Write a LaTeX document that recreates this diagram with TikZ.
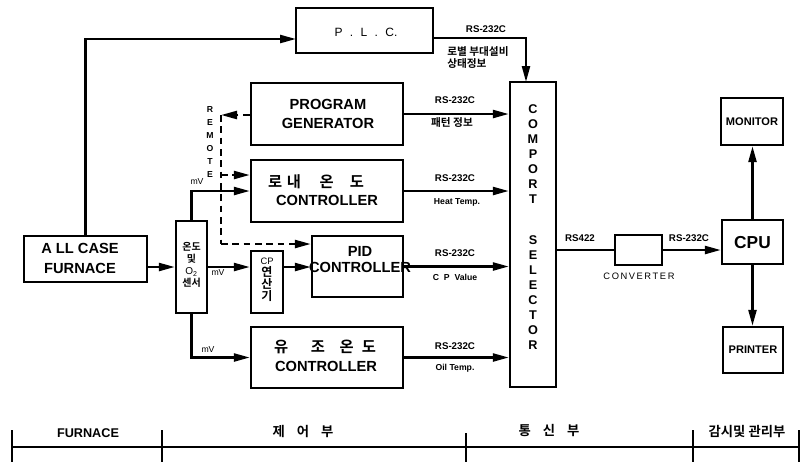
\documentclass[tikz,border=0pt]{standalone}
\usepackage{fontspec}
\setmainfont{Liberation Sans}
\newfontfamily\kr{Noto Sans CJK KR}[BoldFont={Noto Sans CJK KR Bold}]
\usetikzlibrary{arrows.meta,fit}
\newcommand{\fsz}[2]{\fontsize{#1}{#2}\selectfont}
\begin{document}
\begin{tikzpicture}[x=0.75pt,y=-0.75pt,
 box/.style={draw, line width=1.8pt, inner sep=0pt},
 ln/.style={line width=1.8pt},
 tip/.style={-{Triangle[length=12pt,width=6pt]}},
 arr/.style={ln, tip},
 dsh/.style={line width=1.8pt, dash pattern=on 5pt off 3.5pt},
 txt/.style={inner sep=0pt, align=center},
 lab/.style={inner sep=0pt, font=\fsz{7.3}{8}\bfseries},
 small/.style={inner sep=0pt, font=\fsz{6.5}{8}\bfseries},
 big/.style={txt, font=\fsz{11}{14.25}\bfseries},
 krbig/.style={inner sep=0pt, font=\kr\bfseries\fsz{11.5}{12}},
 krlab/.style={inner sep=0pt, font=\kr\bfseries\fsz{8}{8.3}},
]
\useasboundingbox (0,0) rectangle (801,462);

% ---------- boxes ----------
\node[box, fit={(296,8)(433,53)}] (plc) {};
\node[box, fit={(251,83)(403,145)}] (pg) {};
\node[box, fit={(251,160)(403,222)}] (naeon) {};
\node[box, fit={(312,236)(403,297)}] (pid) {};
\node[box, fit={(251,327)(403,388)}] (yujo) {};
\node[box, fit={(24,236)(147,282)}] (furnace) {};
\node[box, fit={(176,221)(207,313)}] (sensor) {};
\node[box, fit={(251,251)(283,313)}] (cpcalc) {};
\node[box, fit={(510,82)(556,387)}] (comport) {};
\node[box, fit={(615,235)(662,265)}] (conv) {};
\node[box, fit={(722,220)(783,264)}] (cpu) {};
\node[box, fit={(721,98)(783,145)}] (mon) {};
\node[box, fit={(723,327)(783,373)}] (prn) {};

% ---------- texts inside boxes ----------
\node[txt, font=\fsz{9}{10}] (plct) at (366,32) {P\,\, .\,\, L\,\, .\,\, C.};
\node[big] (pgt) at (328,113.5) {PROGRAM\\GENERATOR};
\node[krbig] (naeonk) at (316,182) {로\hspace{3.5pt}내\hspace{14pt}온\hspace{12pt}도};
\node[txt, font=\fsz{11}{12}\bfseries] (naeonc) at (327,200) {CONTROLLER};
\node[txt, font=\fsz{11}{12}\bfseries] (pidt) at (360,260) {PID\\CONTROLLER};
\node[krbig] (yujok) at (325,347) {유\hspace{17pt}조\hspace{11pt}온\hspace{6pt}도};
\node[txt, font=\fsz{11}{12}\bfseries] (yujoc) at (326,366) {CONTROLLER};
\node[txt, font=\fsz{11}{15}\bfseries] (furnacet) at (80,258) {A LL CASE\\FURNACE};
\node[txt, font=\fsz{7.5}{9}] (sensort) at (191.5,265)
  {{\kr\bfseries 온도}\\{\kr\bfseries 및}\\O\textsubscript{2}\\{\kr\bfseries 센서}};
\node[txt, font=\fsz{9}{9}] (cpt) at (267,280)
  {{\fsz{7}{9}CP}\\{\kr\bfseries 연}\\{\kr\bfseries 산}\\{\kr\bfseries 기}};
\node[txt, font=\fsz{9.5}{11.3}\bfseries] (cptxt) at (533,227)
  {C\\O\\M\\P\\O\\R\\T\\[19pt]S\\E\\L\\E\\C\\T\\O\\R};
\node[txt, font=\fsz{13}{14}\bfseries] (cput) at (752.5,243) {CPU};
\node[txt, font=\fsz{8.3}{9}\bfseries] (mont) at (752,122) {MONITOR};
\node[txt, font=\fsz{8.3}{9}\bfseries] (prnt) at (753,350) {PRINTER};
\node[inner sep=0pt, font=\fsz{7}{8}] (convl) at (639,276) {C\,O\,N\,V\,E\,R\,T\,E\,R};

% ---------- PLC connections ----------
\coordinate (plcin) at (296,39);
\coordinate (plcout) at (433,38);
\coordinate (cpin) at (526,82);
\draw[arr] (furnace.north) |- (plcin);
\draw[arr] (plcout) -| (cpin);
\node[lab] (l0) at (486,29) {RS-232C};
\node[krlab, align=left, anchor=west] (l0k) at (447,57.5) {로별 부대설비\\상태정보};

% ---------- sensor / controllers ----------
\draw[arr] (furnace.east |- sensor.west) -- (sensor.west);
\draw[arr] (sensor.east) -- (sensor.east -| cpcalc.west);
\draw[arr] (cpcalc.east |- sensor.east) -- (pid.west |- sensor.east);
\draw[arr] (sensor.north) |- (naeon.west);
\draw[arr] (sensor.south) |- (yujo.west);
\node[inner sep=0pt, font=\fsz{6.5}{7}] (mv1) at (197,182) {mV};
\node[inner sep=0pt, font=\fsz{6.5}{7}] (mv2) at (218,273) {mV};
\node[inner sep=0pt, font=\fsz{6.5}{7}] (mv3) at (208,350) {mV};

% ---------- remote (dashed) ----------
\coordinate (r1) at (221,115);
\coordinate (r2) at (221,175);
\coordinate (r3) at (221,244);
\draw[dsh, tip] (pg.west |- r1) -- (r1);
\draw[dsh] (r1) -- (r3);
\draw[dsh, tip] (r2) -- (naeon.west |- r2);
\draw[dsh, tip] (r3) -- (pid.west |- r3);
\node[txt, font=\fsz{6.5}{9.75}\bfseries] (remote) at (210,142) {R\\E\\M\\O\\T\\E};

% ---------- outputs to comport ----------
\draw[arr] (pg.east) -- (pg.east -| comport.west);
\draw[arr] (naeon.east) -- (naeon.east -| comport.west);
\draw[arr] (pid.east) -- (pid.east -| comport.west);
\draw[arr] (yujo.east) -- (yujo.east -| comport.west);
\node[lab] (l1) at (455,100) {RS-232C};
\node[krlab] (l1k) at (452,123) {패턴 정보};
\node[lab] (l2) at (455,178) {RS-232C};
\node[small] (l2b) at (457,202) {Heat Temp.};
\node[lab] (l3) at (455,253) {RS-232C};
\node[small] (l3b) at (455,277) {C\ \ P\ \ Value};
\node[lab] (l4) at (455,346) {RS-232C};
\node[small] (l4b) at (455,368) {Oil Temp.};

% ---------- comport -> cpu ----------
\draw[ln] (comport.east |- conv.west) -- (conv.west);
\draw[arr] (conv.east) -- (conv.east -| cpu.west);
\draw[arr] (cpu.north) -- (cpu.north |- mon.south);
\draw[arr] (cpu.south) -- (cpu.south |- prn.north);
\node[lab] (l5) at (580,238) {RS422};
\node[lab] (l6) at (689,238) {RS-232C};

% ---------- bottom scale ----------
\coordinate (b0) at (12,447);
\coordinate (b4) at (800,447);
\draw[ln] (b0) -- (b4);
\foreach \x/\t in {12/430,162/430,466/433,693/430,799/430}
  \draw[ln] (\x,\t) -- (\x,462);
\node[inner sep=0pt, font=\fsz{9.5}{10}\bfseries] (s1) at (88,433) {FURNACE};
\node[inner sep=0pt, font=\kr\bfseries\fsz{10}{11}] (s2) at (303,431) {제\hspace{9pt}어\hspace{9pt}부};
\node[inner sep=0pt, font=\kr\bfseries\fsz{10}{11}] (s3) at (549,431) {통\hspace{9pt}신\hspace{9pt}부};
\node[inner sep=0pt, font=\kr\bfseries\fsz{10}{11}] (s4) at (747,431) {감시및 관리부};
\end{tikzpicture}
\end{document}
